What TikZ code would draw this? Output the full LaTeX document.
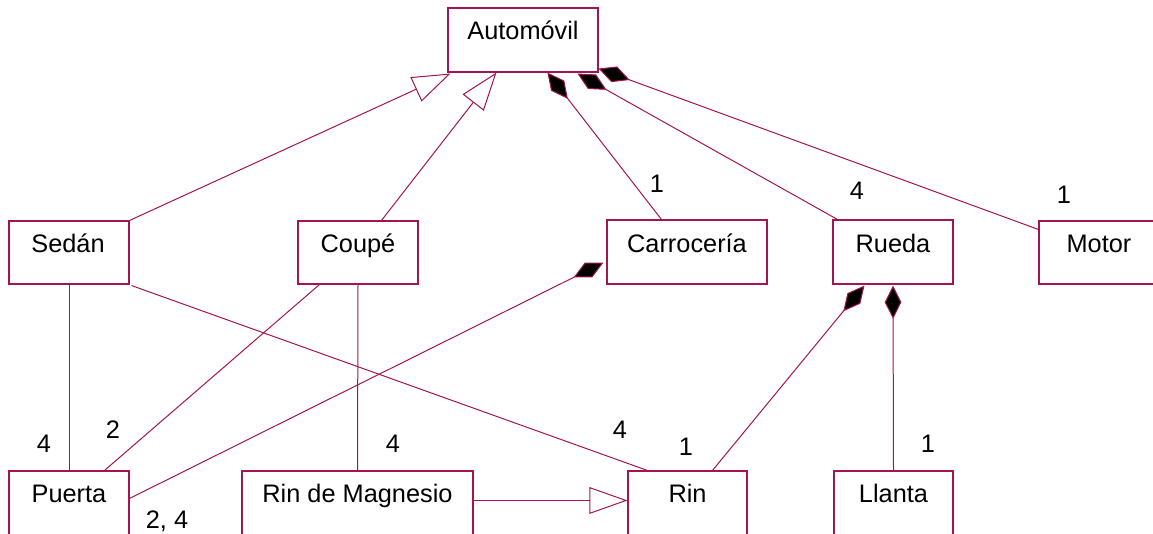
\documentclass[tikz,border=0pt]{standalone}
\usepackage{fontspec}
\setmainfont{Liberation Sans}
\usetikzlibrary{arrows.meta,calc}
\definecolor{umlline}{RGB}{165,20,80}
\tikzset{
  box/.style={draw=umlline, line width=0.8pt, rectangle, inner sep=0pt, fill=white},
  ttl/.style={anchor=base, inner sep=0pt, font=\fontsize{19}{21}\selectfont},
  mult/.style={anchor=base, inner sep=0pt, font=\fontsize{19}{21}\selectfont},
  conn/.style={draw=umlline, line width=0.75pt},
  gen/.style={conn, -{Triangle[open, length=28.5pt, width=20pt, line width=0.75pt]}},
  comp/.style={conn, -{Diamond[fill=black, length=25pt, width=12.5pt, line width=0.75pt]}},
}
\begin{document}
\begin{tikzpicture}[x=0.75pt, y=-0.75pt]
\useasboundingbox (0,0) rectangle (1153,533);
% boxes
\node[box, minimum width=150*0.75pt, minimum height=64*0.75pt] (auto) at (523,40) {};
\node[box, minimum width=120*0.75pt, minimum height=63*0.75pt] (sedan) at (69,252.5) {};
\node[box, minimum width=120*0.75pt, minimum height=63*0.75pt] (coupe) at (358,252.5) {};
\node[box, minimum width=160*0.75pt, minimum height=64*0.75pt] (carr) at (687,252) {};
\node[box, minimum width=120*0.75pt, minimum height=64*0.75pt] (rueda) at (893,252) {};
\node[box, minimum width=120*0.75pt, minimum height=63*0.75pt] (motor) at (1099,252.5) {};
\node[box, minimum width=120*0.75pt, minimum height=64*0.75pt] (puerta) at (69,503) {};
\node[box, minimum width=231*0.75pt, minimum height=64*0.75pt] (rinmag) at (357.5,503) {};
\node[box, minimum width=119*0.75pt, minimum height=64*0.75pt] (rin) at (687.5,503) {};
\node[box, minimum width=119*0.75pt, minimum height=64*0.75pt] (llanta) at (893.5,503) {};
% titles
\node[ttl] (autoT) at (523,39) {Automóvil};
\node[ttl] (sedanT) at (68,252) {Sedán};
\node[ttl] (coupeT) at (358,252) {Coupé};
\node[ttl] (carrT) at (687,252) {Carrocería};
\node[ttl] (ruedaT) at (893,252) {Rueda};
\node[ttl] (motorT) at (1099,252) {Motor};
\node[ttl] (puertaT) at (69,502) {Puerta};
\node[ttl] (rinmagT) at (357.5,502) {Rin de Magnesio};
\node[ttl] (rinT) at (687.5,502) {Rin};
\node[ttl] (llantaT) at (893.5,502) {Llanta};
% generalizations
\draw[gen] (sedan.north east) -- ($(auto.south west)+(3,1)$);
\draw[gen] ($(coupe.north west)+(84,0)$) -- ($(auto.south west)+(49,0)$);
\draw[gen] ($(rinmag.north east)+(0,30)$) -- ($(rin.north west)+(0,30)$);
% compositions
\draw[comp] ($(carr.north west)+(55,0)$) -- ($(auto.south west)+(100,0)$);
\draw[comp] ($(rueda.north west)+(5,0)$) -- ($(auto.south west)+(130,1)$);
\draw[comp] ($(motor.north west)+(0,9)$) -- ($(auto.south east)+(0,-4)$);
\draw[comp] ($(puerta.north east)+(0,28)$) -- ($(carr.south west)+(-3,-22)$);
\draw[comp] ($(rin.north west)+(85,0)$) -- ($(rueda.south west)+(32,1)$);
\draw[comp] (llanta.north) -- ($(rueda.south)+(0,1)$);
% associations
\draw[conn] (sedan.south) -- (puerta.north);
\draw[conn] ($(sedan.south east)+(2,1)$) -- ($(rin.north west)+(20,0)$);
\draw[conn] ($(coupe.south west)+(22,0)$) -- ($(puerta.north west)+(96,0)$);
\draw[conn] (coupe.south) -- (rinmag.north);
% multiplicities
\node[mult] (m1) at (657,192) {1};
\node[mult] (m2) at (857,199) {4};
\node[mult] (m3) at (1064,203) {1};
\node[mult] (m4) at (44,452) {4};
\node[mult] (m5) at (113,438) {2};
\node[mult] (m6) at (167,528) {2, 4};
\node[mult] (m7) at (393,452) {4};
\node[mult] (m8) at (620,438) {4};
\node[mult] (m9) at (686,455) {1};
\node[mult] (m10) at (928,452) {1};
\end{tikzpicture}
\end{document}
